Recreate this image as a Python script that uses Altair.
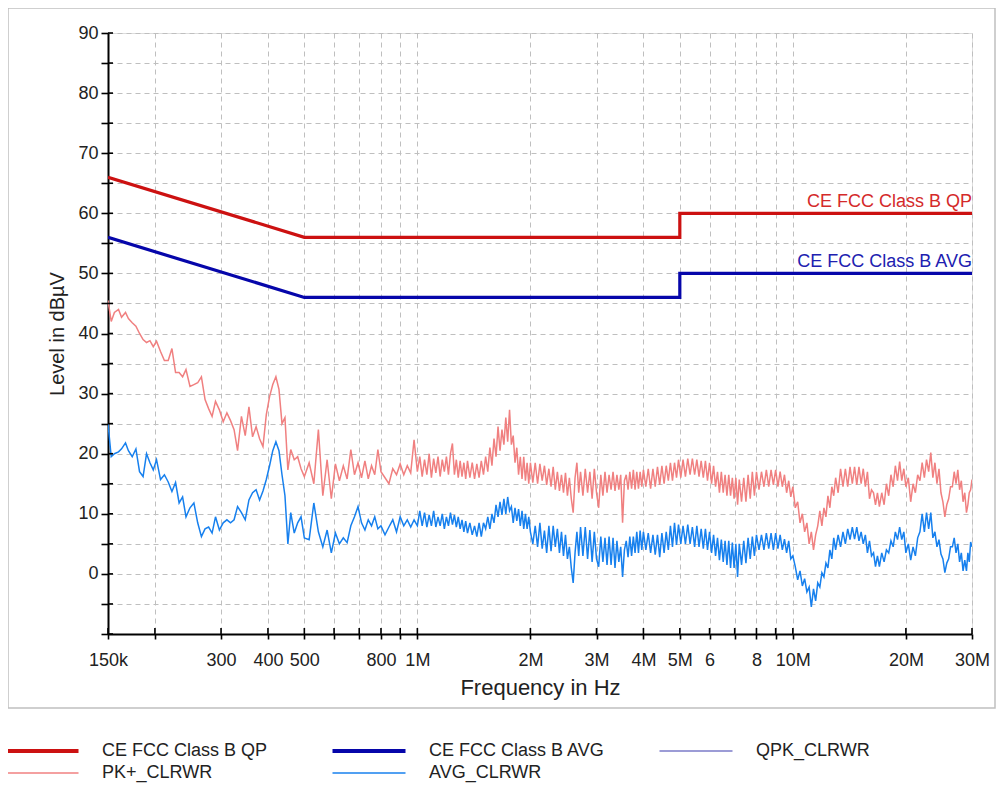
import altair as alt
import pandas as pd

# ---------------- data ----------------
SERIES = ["CE FCC Class B QP", "CE FCC Class B AVG", "QPK_CLRWR", "PK+_CLRWR", "AVG_CLRWR"]
COLORS = ["#cc1111", "#0606aa", "#7b7bc9", "#f08080", "#1780ee"]

LIMIT_KHZ = [150, 500, 5000, 5000, 30000]
QP_LIMIT = [66, 56, 56, 60, 60]
AVG_LIMIT = [56, 46, 46, 50, 50]

FREQ_KHZ = [
    # 150 kHz - 500 kHz
    150, 153, 156, 160, 163, 167, 170, 174, 178, 182, 186, 190, 194, 198, 202, 207, 212, 217, 222, 227,
    232, 237, 242, 248, 254, 260, 266, 272, 278, 284, 290, 297, 304, 311, 318, 325, 332, 340, 348, 356,
    364, 372, 380, 388, 396, 404, 412, 420, 428, 436, 444, 452, 460, 470, 480, 490, 500,
    # 500 kHz - 1 MHz
    515, 530, 545, 560, 575, 590, 605, 620, 635, 650, 665, 680, 695, 710, 725, 740, 755, 770, 785, 800,
    820, 840, 860, 880, 900, 920, 940, 960, 980, 1000,
    # 1 MHz - 2 MHz
    1015, 1030, 1045, 1060, 1075, 1090, 1105, 1120, 1135, 1150, 1165, 1180, 1195, 1210, 1225, 1240,
    1255, 1270, 1285, 1300, 1315, 1330, 1345, 1360,
    1380, 1400, 1420, 1440, 1460, 1480, 1500, 1520, 1540, 1560, 1580, 1600, 1620, 1640, 1660, 1680,
    1700, 1720, 1740, 1760, 1780, 1800, 1820, 1840, 1860, 1880, 1900, 1920, 1940, 1960, 1980, 2000,
    # 2 MHz - 4 MHz
    2030, 2060, 2090, 2120, 2150, 2180, 2210, 2240, 2270, 2300, 2330, 2360, 2390, 2420, 2450, 2480,
    2510, 2540, 2570, 2600, 2630, 2660, 2690, 2720,
    2760, 2800, 2840, 2880, 2920, 2960, 3000, 3040, 3080, 3120, 3160, 3200, 3240, 3280, 3320, 3360,
    3400, 3440, 3480, 3520, 3560, 3600, 3640, 3680, 3720, 3760, 3800, 3840, 3880, 3920, 3960, 4000,
    # 4 MHz - 8 MHz
    4060, 4120, 4180, 4240, 4300, 4360, 4420, 4480, 4540, 4600, 4660, 4720, 4780, 4840, 4900, 4960,
    5030, 5100, 5175, 5250, 5325, 5400, 5475, 5550, 5625, 5700, 5775, 5850, 5925, 6000, 6075, 6150,
    6225, 6300, 6375, 6450, 6525, 6600, 6675, 6750, 6825, 6900, 6975, 7050, 7125, 7200,
    7300, 7400, 7500, 7600, 7700, 7800, 7900, 8000,
    # 8 MHz - 16 MHz
    8125, 8250, 8375, 8500, 8625, 8750, 8875, 9000, 9125, 9250, 9375, 9500, 9625, 9750, 9875, 10000,
    10150, 10300, 10450, 10600, 10750, 10900, 11050, 11200, 11350, 11500, 11650, 11800, 11950, 12100,
    12250, 12400, 12550, 12700, 12850, 13000,
    13200, 13400, 13600, 13800, 14000, 14200, 14400, 14600, 14800, 15000, 15200, 15400, 15600, 15800,
    16000, 16200,
    # 16 MHz - 30 MHz
    16400, 16600, 16800, 17000, 17250, 17500, 17750, 18000, 18250, 18500, 18750, 19000, 19250, 19500,
    19750, 20000,
    20300, 20600, 20900, 21200, 21500, 21800, 22100, 22400, 22700, 23000, 23300, 23600, 23900, 24200,
    24500, 24800, 25100, 25400, 25700, 26000, 26300, 26600, 26900, 27200, 27500, 27800, 28100, 28400,
    28700, 29000,
    29250, 29500, 29750, 30000,
]

PK_DBUV = [
    45.5, 42.0, 43.5, 44.0, 42.7, 43.5, 42.5, 41.8, 41.2, 40.0, 39.0, 38.5, 38.8, 37.8, 38.7, 37.0, 35.5, 35.5, 37.5, 33.5,
    33.5, 32.8, 34.0, 31.2, 31.5, 31.8, 32.8, 29.0, 27.5, 26.2, 28.7, 27.3, 25.3, 26.8, 25.5, 24.0, 20.5, 26.2, 23.0, 27.8,
    22.8, 24.5, 22.5, 21.2, 26.5, 29.5, 31.5, 32.8, 30.7, 25.0, 26.0, 17.3, 20.7, 19.0, 19.5, 17.5, 16.2,
    18.5, 15.0, 24.0, 13.0, 19.0, 12.5, 18.3, 15.5, 18.0, 15.8, 20.7, 16.5, 18.5, 16.0, 18.8, 15.8, 18.0, 16.5, 20.7, 17.0,
    16.0, 15.0, 17.5, 16.5, 18.3, 16.5, 18.0, 16.8, 22.3, 17.0,
    19.5, 16.2, 19.0, 16.5, 20.0, 16.0, 19.2, 16.8, 19.5, 16.2, 19.0, 17.0, 19.5, 16.5, 20.0, 21.7,
    16.5, 19.0, 16.0, 18.8, 16.2, 18.5, 15.8, 18.8,
    16.0, 18.5, 15.8, 18.3, 16.0, 18.8, 16.5, 19.5, 17.0, 21.0, 18.0, 22.5, 19.5, 24.5, 20.5, 24.0,
    21.5, 26.0, 22.0, 27.3, 21.5, 23.0, 18.5, 21.0, 16.5, 19.5, 15.8, 19.5, 15.5, 18.5, 15.0, 18.5,
    15.2, 18.5, 15.0, 18.3, 15.5, 18.0, 14.8, 17.5, 14.5, 17.8, 14.0, 17.0, 13.8, 16.5, 13.5, 16.8,
    13.0, 16.0, 12.5, 10.2, 16.0, 18.5, 13.5, 17.0,
    13.0, 17.5, 13.5, 17.0, 12.5, 17.5, 13.5, 11.0, 16.5, 13.0, 17.0, 13.5, 16.5, 14.0, 17.0, 13.8,
    16.5, 14.0, 16.5, 8.5, 15.5, 16.5, 14.0, 17.0, 14.2, 17.3, 14.0, 17.0, 14.2, 17.0, 14.5, 17.3,
    14.5, 17.5, 14.2, 17.5, 14.5, 17.8, 14.8, 18.0, 15.0, 18.0, 15.5, 18.5, 15.5, 18.5, 16.0, 19.0,
    16.0, 19.0, 16.2, 19.2, 16.5, 19.2, 16.5, 19.0, 16.2, 18.8, 16.0, 18.8, 15.5, 18.5, 15.0, 18.0,
    14.5, 17.0, 13.5, 17.0, 13.5, 16.5, 13.0, 16.5, 13.0, 16.0, 12.5, 16.0, 11.5, 15.7,
    12.0, 16.0, 12.0, 16.5, 12.5, 17.0, 13.0, 17.0,
    14.0, 17.0, 14.5, 17.3, 14.5, 17.3, 14.8, 17.3, 14.5, 17.0, 14.5, 16.5, 13.5, 15.5, 12.8, 14.5,
    11.0, 12.0, 8.5, 10.0, 7.0, 8.5, 5.0, 7.0, 4.0, 6.5, 8.0, 10.5, 8.0, 11.0,
    9.5, 13.0, 11.0, 14.5, 13.0, 16.0,
    13.5, 17.5, 14.5, 17.5, 14.5, 17.8, 15.0, 17.8, 14.8, 17.8, 15.0, 17.5, 14.5, 17.0,
    12.5, 14.0,
    13.5, 11.5, 13.5, 11.2, 13.5, 11.5, 15.0, 13.0, 16.5, 14.5, 18.0, 15.5, 18.7, 15.5,
    17.5, 14.5,
    16.0, 12.0, 15.0, 13.5, 16.5, 15.5, 18.5, 16.0, 19.0, 17.0, 20.2, 16.0, 18.5, 15.0,
    17.5, 13.5, 12.0, 9.5, 11.5, 12.5, 14.5, 14.5, 17.0, 15.0, 17.3, 14.0, 15.5, 12.0,
    13.5, 10.2,
    11.5, 13.5, 14.0, 15.7,
]

AVG_DBUV = [
    25.0, 19.5, 20.0, 20.3, 20.8, 21.8, 20.5, 19.5, 20.8, 17.0, 16.2, 20.0, 18.5, 17.3, 19.0, 15.7, 16.5, 15.3, 13.7, 15.2,
    11.8, 12.8, 9.5, 11.0, 11.8, 8.5, 6.2, 7.5, 7.8, 6.8, 9.5, 7.3, 8.5, 9.0, 8.5, 9.0, 11.2, 10.2, 9.0, 12.3,
    13.5, 14.0, 12.3, 13.8, 15.7, 18.0, 20.5, 22.0, 20.5, 16.5, 13.0, 5.0, 10.2, 6.8, 8.5, 9.5, 6.0,
    5.7, 11.8, 7.0, 4.5, 7.3, 3.5, 6.8, 5.0, 6.0, 5.2, 8.0, 9.5, 11.2, 8.5, 7.3, 9.0, 8.0, 9.5, 7.5, 8.0,
    6.5, 7.8, 9.0, 7.0, 9.5, 8.0, 9.0, 7.8, 9.0, 8.0,
    10.5, 8.0, 10.2, 7.8, 9.8, 8.0, 10.5, 7.8, 9.5, 8.0, 10.0, 7.5, 9.5, 8.0, 10.2, 8.2,
    9.8, 7.8, 9.5, 7.5, 9.0, 7.0, 8.8, 6.8,
    8.5, 6.5, 8.0, 6.2, 8.5, 6.2, 8.5, 7.5, 9.5, 7.5, 10.0, 8.5, 11.5, 9.5, 12.0, 9.8,
    12.5, 10.0, 12.8, 10.5, 11.2, 8.5, 11.0, 8.8, 10.8, 8.0, 10.5, 7.5, 10.0, 7.5, 9.5, 7.0,
    5.0, 8.0, 4.5, 8.5, 4.2, 7.2, 3.5, 8.0, 3.8, 8.0, 4.5, 7.5, 3.5, 7.0, 3.0, 6.5,
    2.5, 4.5, 1.0, -1.5, 3.5, 7.0, 3.0, 7.8,
    3.0, 7.8, 2.5, 7.3, 2.0, 7.0, 2.5, 1.2, 6.2, 2.0, 6.0, 1.5, 6.2, 1.5, 6.0, 1.0,
    5.5, 2.0, 4.5, -0.5, 4.0, 5.5, 2.8, 6.2, 3.0, 6.2, 3.5, 7.0, 3.5, 7.2, 4.0, 7.0,
    4.0, 6.8, 3.5, 6.5, 3.2, 6.5, 2.8, 6.8, 3.5, 7.0, 4.0, 8.0, 4.5, 8.5, 4.8, 8.2,
    5.0, 8.0, 5.0, 8.2, 5.0, 7.8, 4.5, 8.0, 4.5, 7.5, 4.2, 7.5, 4.0, 7.0, 3.5, 6.5,
    3.0, 6.0, 2.3, 5.7, 2.0, 5.5, 1.5, 5.5, 1.0, 5.2, 1.0, 5.0, -0.5, 5.0,
    1.5, 5.5, 1.8, 6.0, 2.5, 6.2, 3.0, 6.5,
    4.0, 6.5, 4.0, 6.8, 4.2, 6.8, 4.0, 6.8, 4.2, 6.5, 4.0, 5.8, 3.5, 5.5, 2.5, 3.0,
    1.2, -1.0, 0.5, -2.0, -0.8, -3.0, -2.2, -5.5, -2.5, -4.5, -1.5, -2.2, 0.2, -0.5,
    1.8, 1.0, 4.0, 2.5, 6.0, 4.0,
    6.5, 4.5, 7.0, 5.0, 7.5, 5.7, 7.8, 5.8, 7.8, 5.5, 7.0, 5.0, 6.5, 3.5,
    5.5, 3.0,
    3.5, 1.2, 3.0, 1.2, 3.5, 2.0, 4.0, 3.5, 5.5, 4.5, 7.0, 5.7, 7.8, 5.7,
    7.0, 3.5,
    5.0, 2.3, 4.5, 3.0, 6.0, 7.0, 10.0, 7.0, 10.2, 7.5, 10.2, 6.0, 7.0, 4.5,
    5.7, 3.3, 2.5, 0.2, 1.8, 2.5, 4.5, 4.5, 6.0, 3.5, 5.0, 2.0, 3.5, 0.5,
    2.3, 0.5,
    3.5, 2.0, 5.3, 4.5,
]

TICK_KHZ = [150, 200, 300, 400, 500, 600, 700, 800, 900, 1000, 2000, 3000, 4000, 5000,
            6000, 7000, 8000, 9000, 10000, 20000, 30000]
LABEL_KHZ = [150, 300, 400, 500, 800, 1000, 2000, 3000, 4000, 5000, 6000, 8000, 10000, 20000, 30000]
LABEL_TEXT = ["150k", "300", "400", "500", "800", "1M", "2M", "3M", "4M", "5M", "6", "8", "10M", "20M", "30M"]
Y_TICKS = list(range(-10, 95, 5))

# ---------------- tables ----------------
assert len(FREQ_KHZ) == len(PK_DBUV) == len(AVG_DBUV)
rows = []
for name, fs, vs in [(SERIES[0], LIMIT_KHZ, QP_LIMIT), (SERIES[1], LIMIT_KHZ, AVG_LIMIT),
                     (SERIES[3], FREQ_KHZ, PK_DBUV), (SERIES[4], FREQ_KHZ, AVG_DBUV)]:
    for i, (f, v) in enumerate(zip(fs, vs)):
        rows.append({"f": f, "level": v, "series": name, "idx": i})
df = pd.DataFrame(rows)

labels_df = pd.DataFrame({
    "f": [LIMIT_KHZ[-1], LIMIT_KHZ[-1]],
    "level": [QP_LIMIT[-1], AVG_LIMIT[-1]],
    "text": [SERIES[0], SERIES[1]],
})
xt_df = pd.DataFrame({"f": TICK_KHZ})
yt_df = pd.DataFrame({"level": Y_TICKS})

FONT = "Liberation Sans"
x_label_expr = " : ".join(f"datum.value == {v} ? '{t}'" for v, t in zip(LABEL_KHZ, LABEL_TEXT)) + " : ''"

x_enc = alt.X(
    "f:Q",
    scale=alt.Scale(type="log", domain=[150, 30000], nice=False),
    axis=alt.Axis(
        values=TICK_KHZ, labelExpr=x_label_expr, title="Frequency in Hz",
        grid=True, gridColor="#bfbfbf", gridDash=[5, 4], gridWidth=1,
        domainColor="black", domainWidth=2, tickColor="black", tickWidth=1.6, tickSize=5,
        labelFont=FONT, labelFontSize=18, labelColor="#222222", labelPadding=12,
        labelOverlap=False, labelFlush=False, labelBound=False,
        titleFont=FONT, titleFontSize=22, titleFontWeight="normal", titleColor="#222222", titlePadding=8,
    ),
)
y_enc = alt.Y(
    "level:Q",
    scale=alt.Scale(domain=[-10, 90], nice=False, zero=False),
    axis=alt.Axis(
        values=Y_TICKS, labelExpr="datum.value >= 0 && datum.value % 10 == 0 ? datum.label : ''",
        title="Level in dBµV",
        grid=True, gridColor="#bfbfbf", gridDash=[5, 4], gridWidth=1,
        domainColor="black", domainWidth=2, tickColor="black", tickWidth=1.6, tickSize=7,
        labelFont=FONT, labelFontSize=18, labelColor="#222222", labelPadding=3,
        labelOverlap=False, labelFlush=False, labelBound=False,
        titleFont=FONT, titleFontSize=20, titleFontWeight="normal", titleColor="#222222", titlePadding=10,
    ),
)

legend = alt.Legend(
    title=None, orient="none", legendX=-102, legendY=709, columns=3, direction="horizontal",
    symbolType="stroke", symbolSize=5329, symbolOffset=27,
    symbolStrokeWidth=alt.ExprRef("indexof(['CE FCC Class B QP','CE FCC Class B AVG'], datum.value) >= 0 ? 4 : 1.5"),
    labelFont=FONT, labelFontSize=18, labelColor="#222222", labelOffset=51, labelLimit=400,
    rowPadding=4, columnPadding=46, gridAlign="all", padding=0,
)

lines = alt.Chart(df).mark_line(clip=True).encode(
    x=x_enc, y=y_enc,
    color=alt.Color("series:N", scale=alt.Scale(domain=SERIES, range=COLORS), legend=legend),
    strokeWidth=alt.condition(
        "indexof(['CE FCC Class B QP','CE FCC Class B AVG'], datum.series) >= 0",
        alt.value(3.2), alt.value(1.5)),
    detail="series:N",
    order="idx:Q",
)

qp_text = alt.Chart(labels_df.iloc[[0]]).mark_text(
    align="right", baseline="alphabetic", dy=-6, font=FONT, fontSize=18, color="#d42a2a"
).encode(x=x_enc, y=y_enc, text="text:N")
avg_text = alt.Chart(labels_df.iloc[[1]]).mark_text(
    align="right", baseline="alphabetic", dy=-6, font=FONT, fontSize=18, color="#2020b0"
).encode(x=x_enc, y=y_enc, text="text:N")

x_inner = alt.Chart(xt_df).mark_rule(color="black", strokeWidth=1.6).encode(
    x=x_enc, y=alt.value(595), y2=alt.value(601))
y_inner = alt.Chart(yt_df).mark_rule(color="black", strokeWidth=1.6).encode(
    y=y_enc, x=alt.value(0), x2=alt.value(5))

frame = alt.Chart(pd.DataFrame({"a": [0]})).mark_rect(
    fillOpacity=0, stroke="#c0c0c0", strokeWidth=1.5
).encode(x=alt.value(-100), x2=alt.value(887), y=alt.value(-25), y2=alt.value(675))

chart = alt.layer(frame, lines, qp_text, avg_text, x_inner, y_inner).properties(
    width=864, height=601,
    padding={"left": 100, "top": 25, "right": 24, "bottom": 149},
    autosize=alt.AutoSizeParams(type="none"),
).configure_view(stroke=None).configure(background="white")

chart.save("out.html", embed_options={"renderer": "svg", "actions": False})
